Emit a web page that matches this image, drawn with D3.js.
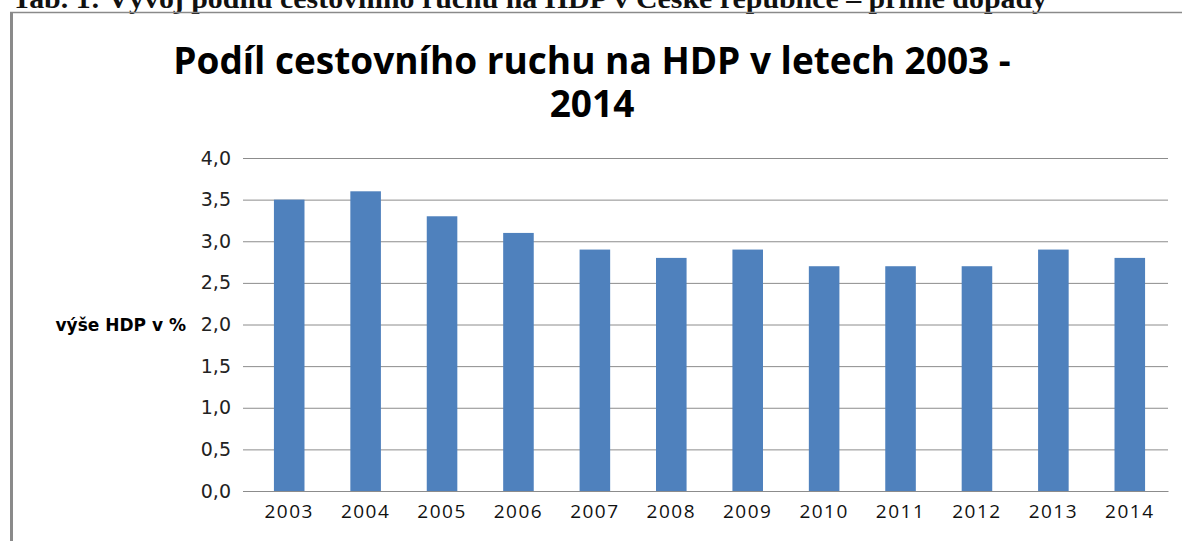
<!DOCTYPE html>
<html lang="cs">
<head>
<meta charset="utf-8">
<title>Podíl cestovního ruchu na HDP</title>
<script src="https://d3js.org/d3.v7.min.js"></script>
<style>
  body { margin: 0; background: #fff; }
  svg { display: block; }
</style>
</head>
<body>
<svg id="chart"></svg>
<script>
    // data
    const years = ["2003","2004","2005","2006","2007","2008","2009","2010","2011","2012","2013","2014"];
    const shares = [3.5, 3.6, 3.3, 3.1, 2.9, 2.8, 2.9, 2.7, 2.7, 2.7, 2.9, 2.8];
    const yTicks = [0, 0.5, 1, 1.5, 2, 2.5, 3, 3.5, 4];
    const headerText = "Tab. 1: Vývoj podílu cestovního ruchu na HDP v České republice – přímé dopady";
    const titleLines = ["Podíl cestovního ruchu na HDP v letech 2003 -", "2014"];
    const yLabel = "výše HDP v %";

    let width = 1182, height = 541;
    let margin = {top: 158, right: 14, bottom: 50, left: 251};

    let svg = d3.select("#chart")
        .attr("width", width)
        .attr("height", height);

    // header line of the document above the chart (cut by the top edge, as in the scan)
    svg.append("text")
        .attr("x", 12).attr("y", 8)
        .attr("textLength", 1035)
        .attr("lengthAdjust", "spacingAndGlyphs")
        .style("font-family", "'Liberation Serif', 'Times New Roman', serif")
        .style("font-weight", "bold")
        .style("font-size", "27px")
        .attr("fill", "#111")
        .text(headerText);

    // chart frame (top and left edge visible)
    svg.append("line")
        .attr("x1", 10).attr("x2", width).attr("y1", 12.5).attr("y2", 12.5)
        .attr("stroke", "#8a8a8a").attr("stroke-width", 1.5);
    svg.append("line")
        .attr("x1", 11.5).attr("x2", 11.5).attr("y1", 12).attr("y2", height)
        .attr("stroke", "#8a8a8a").attr("stroke-width", 3);

    // title
    svg.append("g").selectAll("text")
        .data(titleLines)
        .join("text")
        .attr("x", 592)
        .attr("y", (d, i) => 74 + i * 43)
        .attr("text-anchor", "middle")
        .style("font-family", "'Open Sans', 'Liberation Sans', sans-serif")
        .style("font-weight", "bold")
        .style("font-size", "37px")
        .attr("fill", "#000")
        .text(d => d);

    let x = d3.scaleBand()
        .domain(years)
        .range([margin.left, width - margin.right])
        .paddingInner(0.6)
        .paddingOuter(0.3);

    let y = d3.scaleLinear()
        .domain([0, 4])
        .range([491, margin.top]);

    // gridlines with tick marks sticking out left
    svg.append("g")
        .attr("transform", `translate(${margin.left},0)`)
        .call(d3.axisLeft(y)
            .tickValues(yTicks)
            .tickSize(-(width - margin.right - margin.left))
            .tickFormat(d => d3.format(".1f")(d).replace(".", ","))
            .tickPadding(20))
        .call(g => g.select(".domain").remove())
        .call(g => g.selectAll(".tick line")
            .attr("x1", -8)
            .attr("stroke", "#8c8c8c"))
        .call(g => g.selectAll(".tick text")
            .style("font-family", "'DejaVu Sans', Verdana, sans-serif")
            .style("font-size", "19px")
            .attr("fill", "#222"));

    // bars
    svg.append("g").selectAll("rect")
        .data(shares)
        .join("rect")
        .attr("x", (d, i) => x(years[i]))
        .attr("width", x.bandwidth())
        .attr("y", d => y(d))
        .attr("height", d => y(0) - y(d))
        .attr("fill", "#4f81bd");

    // category axis
    svg.append("g")
        .attr("transform", `translate(0,${y(0)})`)
        .call(d3.axisBottom(x).tickSize(0).tickPadding(14))
        .call(g => g.select(".domain")
            .attr("stroke", "#8c8c8c"))
        .call(g => g.selectAll(".tick text")
            .style("font-family", "'Open Sans', 'Liberation Sans', sans-serif")
            .style("font-size", "19px")
            .style("letter-spacing", "1.5px")
            .attr("fill", "#111"));

    // y axis label
    svg.append("text")
        .attr("x", 186)
        .attr("y", y(2) + 6)
        .attr("text-anchor", "end")
        .style("font-family", "'DejaVu Sans', Verdana, sans-serif")
        .style("font-weight", "bold")
        .style("font-size", "17px")
        .attr("fill", "#000")
        .text(yLabel);
</script>
</body>
</html>
